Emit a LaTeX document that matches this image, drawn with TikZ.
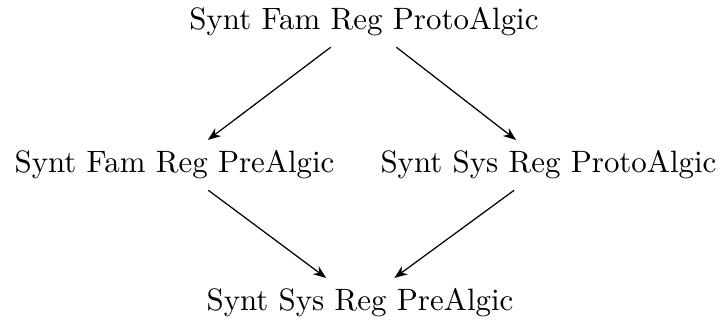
\documentclass[tikz,border=0pt]{standalone}
\usetikzlibrary{arrows.meta}
\begin{document}
\begin{tikzpicture}[x=0.3236pt, y=-0.3236pt,
  lbl/.style={anchor=base},
  imp/.style={-{Stealth[length=4.2pt,width=3.2pt]}, line width=0.4pt}]
  \useasboundingbox (0,0) rectangle (721,324);
  \node[lbl] (fp) at (364,30)    {Synt Fam Reg ProtoAlgic};
  \node[lbl] (fq) at (174.5,173) {Synt Fam Reg PreAlgic};
  \node[lbl] (sp) at (548.5,173) {Synt Sys Reg ProtoAlgic};
  \node[lbl] (sq) at (360,311)   {Synt Sys Reg PreAlgic};
  \draw[imp] (fp) -- (fq);
  \draw[imp] (fp) -- (sp);
  \draw[imp] (fq) -- (sq);
  \draw[imp] (sp) -- (sq);
\end{tikzpicture}
\end{document}
